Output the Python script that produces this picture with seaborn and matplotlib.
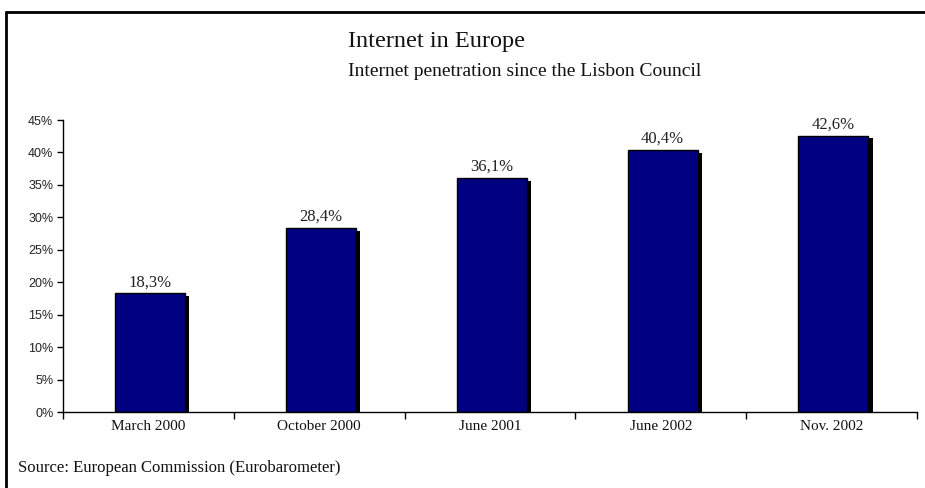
import matplotlib
matplotlib.use("Agg")
import matplotlib.pyplot as plt
import matplotlib.patheffects as pe
from matplotlib.lines import Line2D
import pandas as pd
import seaborn as sns

periods = ["March 2000", "October 2000", "June 2001", "June 2002", "Nov. 2002"]
penetration = [18.3, 28.4, 36.1, 40.4, 42.6]
y_ticks = [0, 5, 10, 15, 20, 25, 30, 35, 40, 45]

df = pd.DataFrame({"period": periods, "value": penetration})

sns.set_theme(style="white")
plt.rcParams["font.family"] = ["Liberation Serif", "DejaVu Serif"]

fig = plt.figure(figsize=(9.25, 4.88), dpi=100)
ax = fig.add_axes([0.0681, 0.1557, 0.9233, 0.5983])

sns.barplot(data=df, x="period", y="value", color="#000080", saturation=1,
            width=0.41, edgecolor="black", linewidth=1, ax=ax)
for p in ax.patches:
    p.set_x(p.get_x() + 0.01)
    p.set_path_effects([pe.SimplePatchShadow(offset=(3, -2), shadow_rgbFace="black", alpha=1),
                        pe.Normal()])
    v = p.get_height()
    ax.annotate(f"{v:.1f}%".replace(".", ","), (p.get_x() + p.get_width() / 2, v),
                xytext=(0, 2), textcoords="offset points", ha="center", va="bottom",
                fontsize=12, color="#222222")

ax.set_xlim(-0.5, len(periods) - 0.5)
ax.set_ylim(0, 45)
ax.set_yticks(y_ticks)
ax.set_yticklabels([f"{t}%" for t in y_ticks], family=["Liberation Sans", "DejaVu Sans"],
                   fontsize=9, color="#222222")
ax.set_xticks(range(len(periods)))
ax.set_xticklabels(periods, fontsize=11, color="#111111")
ax.set_xticks([i - 0.5 for i in range(len(periods) + 1)], minor=True)
ax.tick_params(axis="x", which="major", length=0, pad=6)
ax.tick_params(axis="x", which="minor", length=5, width=1, direction="out", color="black", bottom=True)
ax.tick_params(axis="y", which="major", length=4, width=1, direction="out", color="black", left=True, pad=3)
ax.set_xlabel("")
ax.set_ylabel("")
sns.despine(ax=ax)
for s in ["left", "bottom"]:
    ax.spines[s].set_color("black")
    ax.spines[s].set_linewidth(1)

fig.text(348 / 925, 1 - 42 / 488, "Internet in Europe", fontsize=17.5, ha="left", va="center", color="#111111")
fig.text(348 / 925, 1 - 71 / 488, "Internet penetration since the Lisbon Council", fontsize=14,
         ha="left", va="center", color="#111111")
fig.text(18 / 925, 1 - 468 / 488, "Source: European Commission (Eurobarometer)", fontsize=12,
         ha="left", va="center", color="#111111")

# frame around the figure (top and left edges visible)
fig.add_artist(Line2D([6 / 925, 1], [1 - 12 / 488, 1 - 12 / 488], transform=fig.transFigure,
                      color="black", linewidth=2))
fig.add_artist(Line2D([6 / 925, 6 / 925], [0, 1 - 12 / 488], transform=fig.transFigure,
                      color="black", linewidth=2))

fig.savefig("out.png", dpi=100, facecolor="white")
